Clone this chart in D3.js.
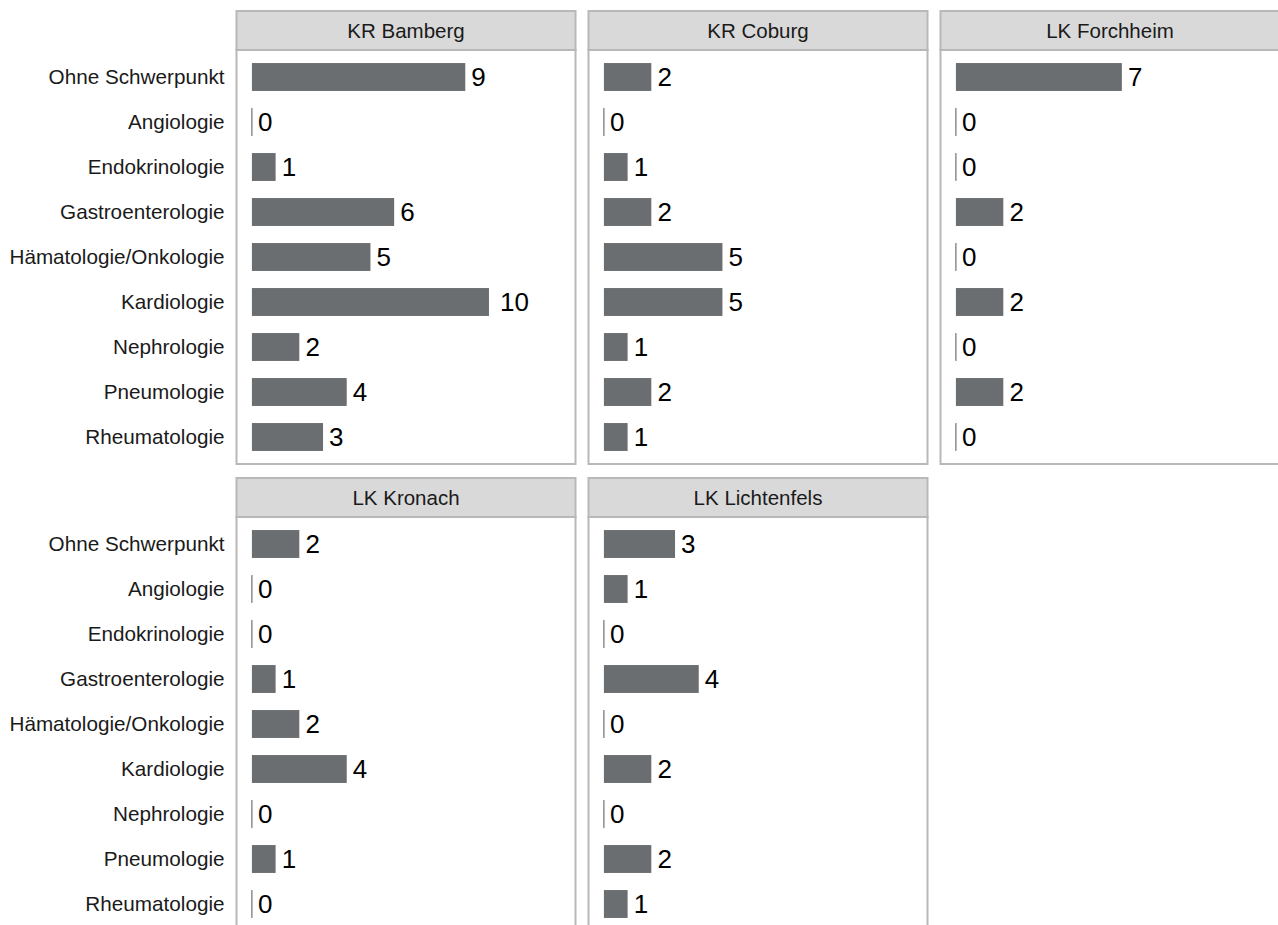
<!DOCTYPE html>
<html>
<head>
<meta charset="utf-8">
<script src="https://cdn.jsdelivr.net/npm/d3@7"></script>
<style>
  html, body { margin: 0; padding: 0; background: #ffffff; }
  svg { display: block; font-family: "Liberation Sans", Arial, sans-serif; }
</style>
</head>
<body>
<svg id="chart" width="1278" height="925"></svg>
<script>
const categories = ["Ohne Schwerpunkt", "Angiologie", "Endokrinologie", "Gastroenterologie",
  "Hämatologie/Onkologie", "Kardiologie", "Nephrologie", "Pneumologie", "Rheumatologie"];
const regions = ["KR Bamberg", "KR Coburg", "LK Forchheim", "LK Kronach", "LK Lichtenfels"];
const valuesBamberg    = [9, 0, 1, 6, 5, 10, 2, 4, 3];
const valuesCoburg     = [2, 0, 1, 2, 5, 5, 1, 2, 1];
const valuesForchheim  = [7, 0, 0, 2, 0, 2, 0, 2, 0];
const valuesKronach    = [2, 0, 0, 1, 2, 4, 0, 1, 0];
const valuesLichtenfels= [3, 1, 0, 4, 0, 2, 0, 2, 1];
const seriesValues = [valuesBamberg, valuesCoburg, valuesForchheim, valuesKronach, valuesLichtenfels];
const xLimit = [0, 13];

const svg = d3.select("#chart");
const panelW = 339, panelGapX = 13, panelX0 = 236.5;
const panelY0 = 11, rowStep = 467, stripH = 39, plotH = 414;
const barColor = "#6b6e71", borderColor = "#b8b8b8", stripFill = "#d9d9d9";
const axisFs = 20.7, numFs = 26, stripFs = 20.5;

// x: 5% expansion like ggplot
const span = xLimit[1] - xLimit[0];
const xDomain = [xLimit[0] - 0.05 * span, xLimit[1] + 0.05 * span];

regions.forEach((reg, i) => {
  const col = i % 3, row = Math.floor(i / 3);
  const px = panelX0 + col * (panelW + panelGapX);
  const py = panelY0 + row * rowStep;
  const plotTop = py + stripH;

  const x = d3.scaleLinear().domain(xDomain).range([px, px + panelW]);
  // discrete axis: 0.6 unit expansion each side
  const y = d3.scalePoint().domain(categories).range([plotTop + 0.6 * plotH / 9.2, plotTop + plotH - 0.6 * plotH / 9.2]);
  const barH = 0.62 * plotH / 9.2;

  const g = svg.append("g");
  g.append("rect").attr("x", px).attr("y", plotTop).attr("width", panelW).attr("height", plotH)
    .attr("fill", "#fff").attr("stroke", borderColor).attr("stroke-width", 2);
  g.append("rect").attr("x", px).attr("y", py).attr("width", panelW).attr("height", stripH)
    .attr("fill", stripFill).attr("stroke", borderColor).attr("stroke-width", 2);
  g.append("text").attr("x", px + panelW / 2).attr("y", py + stripH / 2 + 0.358 * stripFs)
    .attr("text-anchor", "middle").attr("font-size", stripFs).attr("fill", "#1a1a1a").text(reg);

  const data = categories.map((c, k) => ({ c, v: seriesValues[i][k] }));
  g.selectAll("rect.bar").data(data).join("rect").attr("class", "bar")
    .attr("x", x(0)).attr("y", d => y(d.c) - barH / 2)
    .attr("width", d => Math.max(x(d.v) - x(0), 0))
    .attr("height", barH).attr("fill", barColor);
  g.selectAll("line.zero").data(data.filter(d => d.v === 0)).join("line").attr("class", "zero")
    .attr("x1", x(0)).attr("x2", x(0))
    .attr("y1", d => y(d.c) - barH / 2).attr("y2", d => y(d.c) + barH / 2)
    .attr("stroke", "#555").attr("stroke-width", 1);
  g.selectAll("text.val").data(data).join("text").attr("class", "val")
    .attr("y", d => y(d.c) + 0.35 * numFs)
    .attr("font-size", numFs).attr("fill", "#000")
    .text(d => d.v)
    .attr("x", function(d) { return x(d.v) + 0.35 * this.getComputedTextLength() + 1; });

  if (col === 0) {
    g.selectAll("text.cat").data(categories).join("text").attr("class", "cat")
      .attr("x", px - 12).attr("y", d => y(d) + 0.358 * axisFs)
      .attr("text-anchor", "end").attr("font-size", axisFs).attr("fill", "#1a1a1a")
      .text(d => d);
  }
});
</script>
</body>
</html>
